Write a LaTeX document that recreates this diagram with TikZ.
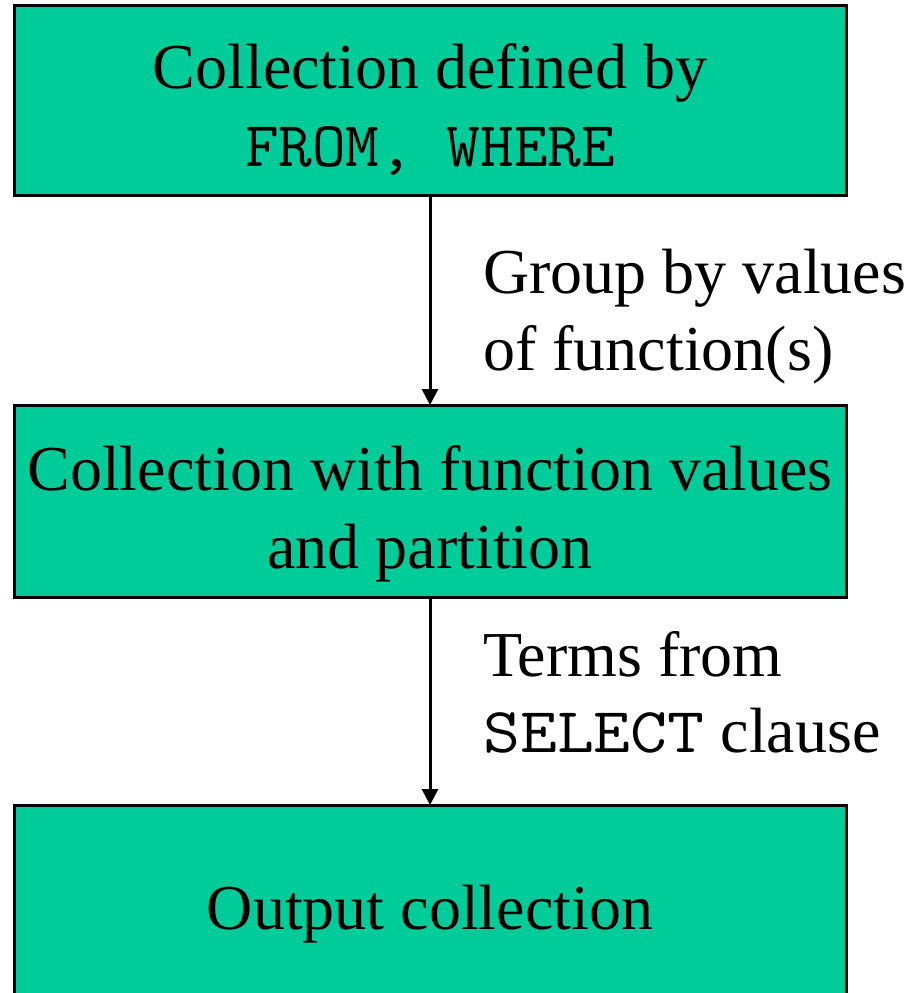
\documentclass[tikz,border=0pt]{standalone}
\usepackage{fontspec}
\usepackage{graphicx}
\setmainfont{Liberation Serif}
\usetikzlibrary{arrows.meta}
\definecolor{boxgreen}{HTML}{00CC99}
\newcommand{\codeword}[2]{\scalebox{#1}[1]{\ttfamily #2}}
\tikzset{
  stagebox/.style={draw=black, line width=3pt, fill=boxgreen, rectangle,
    minimum width=832pt, inner sep=0pt, outer sep=0pt},
  txt/.style={anchor=base, inner sep=0pt, font=\fontsize{64}{77}\selectfont},
  lbl/.style={anchor=base west, inner sep=0pt, font=\fontsize{64}{77}\selectfont},
  flow/.style={line width=3pt, -{Triangle[width=16pt,length=16pt]}}
}
\begin{document}
\begin{tikzpicture}[x=1pt,y=-1pt]
\useasboundingbox (0,0) rectangle (906,993);
\clip (0,0) rectangle (906,993);
\node[stagebox, minimum height=190pt] (b1) at (430,100) {};
\node[stagebox, minimum height=192pt] (b2) at (430,501) {};
\node[stagebox, minimum height=212pt] (b3) at (430,911) {};
\node[txt] (t1a) at (430,88) {Collection defined by};
\node[txt] (t1b) at (430,166) {\codeword{1.02}{FROM, WHERE}};
\node[txt] (t2a) at (430,490) {Collection with function values};
\node[txt] (t2b) at (430,568) {and partition};
\node[txt] (t3a) at (430,929) {Output collection};
\draw[flow] (b1.south) -- (b2.north);
\draw[flow] (b2.south) -- (b3.north);
\node[lbl] (l1a) at (483,293) {Group by values};
\node[lbl] (l1b) at (483,370) {of function(s)};
\node[lbl] (l2a) at (483,676) {Terms from};
\node[lbl] (l2b) at (483,752) {\codeword{1.12}{SELECT} clause};
\end{tikzpicture}
\end{document}
